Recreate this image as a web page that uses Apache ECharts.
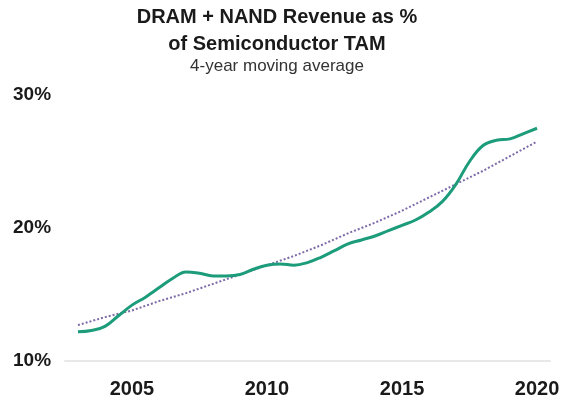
<!DOCTYPE html>
<html>
<head>
<meta charset="utf-8">
<script src="https://cdn.jsdelivr.net/npm/echarts@6/dist/echarts.min.js"></script>
<style>
html,body{margin:0;padding:0;background:#fff;}
#c{width:564px;height:399px;}
</style>
</head>
<body>
<div id="c"></div>
<script>
// Data
const years = [2003,2003.5,2004,2004.5,2005,2005.5,2006,2006.5,2007,2007.5,2008,2008.5,2009,2009.5,2010,2010.5,2011,2011.5,2012,2012.5,2013,2013.5,2014,2014.5,2015,2015.5,2016,2016.5,2017,2017.5,2018,2018.5,2019,2019.5,2020];
const memShare = [12.2,12.3,12.6,13.4,14.2,14.8,15.5,16.2,16.7,16.6,16.4,16.4,16.5,16.9,17.2,17.3,17.2,17.4,17.8,18.3,18.8,19.1,19.4,19.8,20.2,20.6,21.2,22.0,23.3,25.0,26.2,26.6,26.7,27.1,27.5];
const trendYears = [2003,2004,2005,2006,2007,2008,2009,2010,2011,2012,2013,2014,2015,2016,2017,2018,2019,2020];
const trendShare = [12.7,13.3,13.8,14.5,15.1,15.8,16.5,17.2,17.9,18.7,19.6,20.4,21.3,22.3,23.3,24.3,25.4,26.5];
const xTickLabels = [2005,2010,2015,2020];
const yTicks = [10,20,30];

const font = '"Liberation Sans", Arial, Helvetica, sans-serif';
const chart = echarts.init(document.getElementById('c'));
chart.setOption({
  animation: false,
  backgroundColor: '#fff',
  title: [
    {text: 'DRAM + NAND Revenue as %\nof Semiconductor TAM', left: 272, textAlign: 'center', top: -1,
     textStyle: {fontFamily: font, fontWeight: 'bold', fontSize: 20, lineHeight: 27, color: '#1a1a1a'}},
    {text: '4-year moving average', left: 272, textAlign: 'center', top: 53,
     textStyle: {fontFamily: font, fontWeight: 'normal', fontSize: 17, color: '#333'}}
  ],
  grid: {left: 65, right: 14, top: 95, bottom: 35},
  xAxis: {
    type: 'value', min: 2002.52, max: 2020.48,
    axisLine: {show: true, lineStyle: {color: '#e8e8e8', width: 2}},
    axisTick: {show: false},
    splitLine: {show: false},
    axisLabel: {customValues: xTickLabels, margin: 18, fontFamily: font, fontWeight: 'bold', fontSize: 20, color: '#1a1a1a',
      formatter: v => String(Math.round(v))}
  },
  yAxis: {
    type: 'value', min: yTicks[0], max: yTicks[yTicks.length-1], interval: 10,
    axisLine: {show: false}, axisTick: {show: false}, splitLine: {show: false},
    axisLabel: {align: 'left', margin: 52, fontFamily: font, fontWeight: 'bold', fontSize: 19, color: '#1a1a1a',
      formatter: v => v + '%'}
  },
  series: [
    {type: 'line', data: trendYears.map((y,i) => [y, trendShare[i]]), showSymbol: false,
     lineStyle: {color: '#7e6aa8', width: 2, type: 'dotted'}, z: 2},
    {type: 'line', data: years.map((y,i) => [y, memShare[i]]), showSymbol: false, smooth: 0.4,
     lineStyle: {color: '#1c9c7a', width: 3}, z: 3}
  ]
});
</script>
</body>
</html>
